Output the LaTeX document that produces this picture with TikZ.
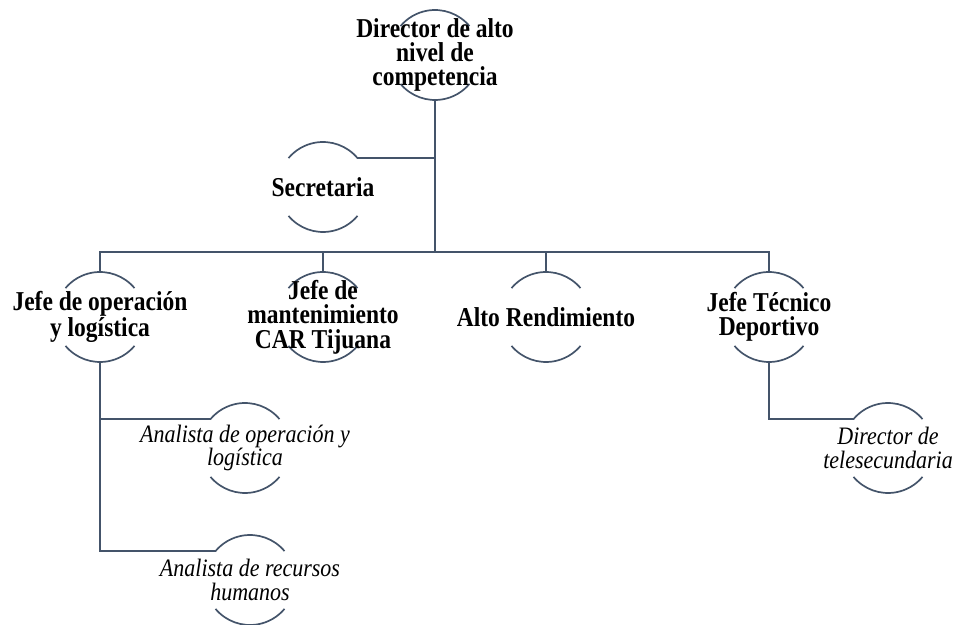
\documentclass[tikz,border=0pt]{standalone}
\usepackage{fontspec}
\setmainfont{Liberation Serif}
\definecolor{linecol}{HTML}{44546A}
\begin{document}
\begin{tikzpicture}[x=1pt,y=1pt,
  ring/.style={circle,minimum size=90pt,inner sep=0pt,outer sep=0pt},
  headtext/.style={align=center,inner sep=0pt,yscale=1.16,transform shape,
    font=\fontsize{23.5}{21}\selectfont\bfseries},
  stafftext/.style={align=center,inner sep=0pt,yscale=1.14,transform shape,
    font=\fontsize{22}{20.5}\selectfont\itshape},
  arcline/.style={draw=linecol,line width=1.7pt},
  link/.style={draw=linecol,line width=2pt},
]
\useasboundingbox (0,0) rectangle (961,624);

% circles (only their top and bottom arcs are drawn)
\node[ring] (dir)  at (435,569) {};
\node[ring] (sec)  at (323,437) {};
\node[ring] (op)   at (100,307) {};
\node[ring] (mant) at (323,307) {};
\node[ring] (alto) at (546,307) {};
\node[ring] (tec)  at (769,307) {};
\node[ring] (ana1) at (245,176) {};
\node[ring] (ana2) at (250,44)  {};
\node[ring] (tele) at (888,176) {};

\foreach \n in {dir,sec,op,mant,alto,tec,ana1,ana2,tele}
  \draw[arcline] (\n.40) arc (40:140:45pt) (\n.220) arc (220:320:45pt);

% labels
\node[headtext] (dir-t)  at (dir)  {Director de alto\\nivel de\\competencia};
\node[headtext] (sec-t)  at (sec)  {Secretaria};
\node[headtext] (op-t)   at (op)   {Jefe de operación\\y logística};
\node[headtext] (mant-t) at (mant) {Jefe de\\mantenimiento\\CAR Tijuana};
\node[headtext] (alto-t) at (alto) {Alto Rendimiento};
\node[headtext] (tec-t)  at (tec)  {Jefe Técnico\\Deportivo};
\node[stafftext] (ana1-t) at (ana1) {Analista de operación y\\logística};
\node[stafftext] (ana2-t) at (ana2) {Analista de recursos\\humanos};
\node[stafftext] (tele-t) at (tele) {Director de\\telesecundaria};

% connectors
\coordinate (hub) at (435,372);
\draw[link] (dir.south) -- (hub);
\draw[link] (sec.40) -- (sec.40 -| hub);
\draw[link] (op.north) -- (op.north |- hub) -- (tec.north |- hub) -- (tec.north);
\draw[link] (mant.north) -- (mant.north |- hub);
\draw[link] (alto.north) -- (alto.north |- hub);
\draw[link] (op.south) |- (ana1.140);
\draw[link] (op.south) |- (ana2.140);
\draw[link] (tec.south) |- (tele.140);
\end{tikzpicture}
\end{document}
